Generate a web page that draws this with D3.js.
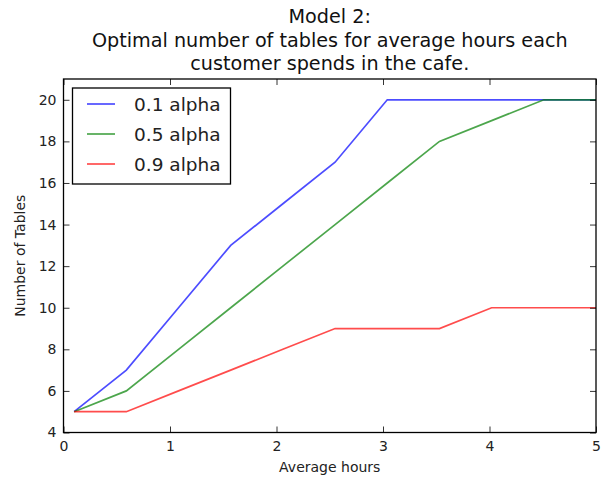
<!DOCTYPE html>
<html><head><meta charset="utf-8">
<script src="https://cdn.jsdelivr.net/npm/d3@7"></script>
<style>
body{margin:0;background:#fff;}
svg{display:block;font-family:"DejaVu Sans",sans-serif;}
</style></head>
<body>
<svg id="chart" width="612" height="480"></svg>
<script>
const hours = [0.1, 0.59, 1.08, 1.57, 2.06, 2.55, 3.04, 3.53, 4.02, 4.51, 5.0];
const alpha01 = [5, 7, 10, 13, 15, 17, 20, 20, 20, 20, 20];
const alpha05 = [5, 6, 8, 10, 12, 14, 16, 18, 19, 20, 20];
const alpha09 = [5, 5, 6, 7, 8, 9, 9, 9, 10, 10, 10];
const seriesNames = ["0.1 alpha", "0.5 alpha", "0.9 alpha"];
const seriesColors = ["#0000ff", "#008000", "#ff0000"];
const xTicks = [0, 1, 2, 3, 4, 5];
const yTicks = [4, 6, 8, 10, 12, 14, 16, 18, 20];
const titleLines = ["Model 2:", "Optimal number of tables for average hours each", "customer spends in the cafe."];

const svg = d3.select("#chart");
const m = {left: 63.5, right: 596, top: 79, bottom: 432.5};
const x = d3.scaleLinear().domain([0, 5]).range([m.left, m.right]);
const y = d3.scaleLinear().domain([4, 21]).range([m.bottom, m.top]);

const series = [alpha01, alpha05, alpha09];
const line = d3.line().x((d, i) => x(hours[i])).y(d => y(d));

const plot = svg.append("g");
series.forEach((s, k) => {
  plot.append("path").datum(s)
    .attr("d", line)
    .attr("fill", "none")
    .attr("stroke", seriesColors[k])
    .attr("stroke-opacity", 0.7)
    .attr("stroke-width", 1.7);
});

// axes with inward ticks
const tickLen = 6;
const fs = "14px";
const xb = svg.append("g").attr("transform", `translate(0,${m.bottom})`)
  .call(d3.axisBottom(x).tickValues(xTicks).tickFormat(d3.format("d")).tickSize(-tickLen).tickPadding(9));
const xt = svg.append("g").attr("transform", `translate(0,${m.top})`)
  .call(d3.axisTop(x).tickValues(xTicks).tickSize(-tickLen).tickFormat(""));
const yl = svg.append("g").attr("transform", `translate(${m.left},0)`)
  .call(d3.axisLeft(y).tickValues(yTicks).tickFormat(d3.format("d")).tickSize(-tickLen).tickPadding(7));
const yr = svg.append("g").attr("transform", `translate(${m.right},0)`)
  .call(d3.axisRight(y).tickValues(yTicks).tickSize(-tickLen).tickFormat(""));
[xb, xt, yl, yr].forEach(g => {
  g.select(".domain").remove();
  g.selectAll(".tick line").attr("stroke", "#000").attr("stroke-width", 0.8);
  g.selectAll("text").attr("font-size", fs).attr("fill", "#222").attr("font-family", "DejaVu Sans");
});

svg.append("rect").attr("x", m.left).attr("y", m.top)
  .attr("width", m.right - m.left).attr("height", m.bottom - m.top)
  .attr("fill", "none").attr("stroke", "#000").attr("stroke-width", 1.3);

// labels
svg.append("text").attr("x", (m.left + m.right) / 2).attr("y", 472)
  .attr("text-anchor", "middle").attr("font-size", "14px").attr("fill", "#222").text("Average hours");
svg.append("text").attr("transform", `translate(25,${(m.top + m.bottom) / 2}) rotate(-90)`)
  .attr("text-anchor", "middle").attr("font-size", "14px").attr("fill", "#222").text("Number of Tables");

// title
const tY = [22.5, 46.5, 70];
titleLines.forEach((t, i) => {
  svg.append("text").attr("x", (m.left + m.right) / 2).attr("y", tY[i])
    .attr("text-anchor", "middle").attr("font-size", "19.2px").attr("fill", "#111").text(t);
});

// legend
const lg = svg.append("g");
lg.append("rect").attr("x", 72.5).attr("y", 88).attr("width", 158).attr("height", 96)
  .attr("fill", "#fff").attr("stroke", "#000").attr("stroke-width", 1.3);
const rowY = [104, 134, 164];
seriesNames.forEach((n, k) => {
  lg.append("line").attr("x1", 87).attr("x2", 115).attr("y1", rowY[k]).attr("y2", rowY[k])
    .attr("stroke", seriesColors[k]).attr("stroke-opacity", 0.7).attr("stroke-width", 1.7);
  lg.append("text").attr("x", 134).attr("y", rowY[k] + 6.5)
    .attr("font-size", "18.5px").attr("fill", "#222").text(n);
});
</script>
</body></html>
